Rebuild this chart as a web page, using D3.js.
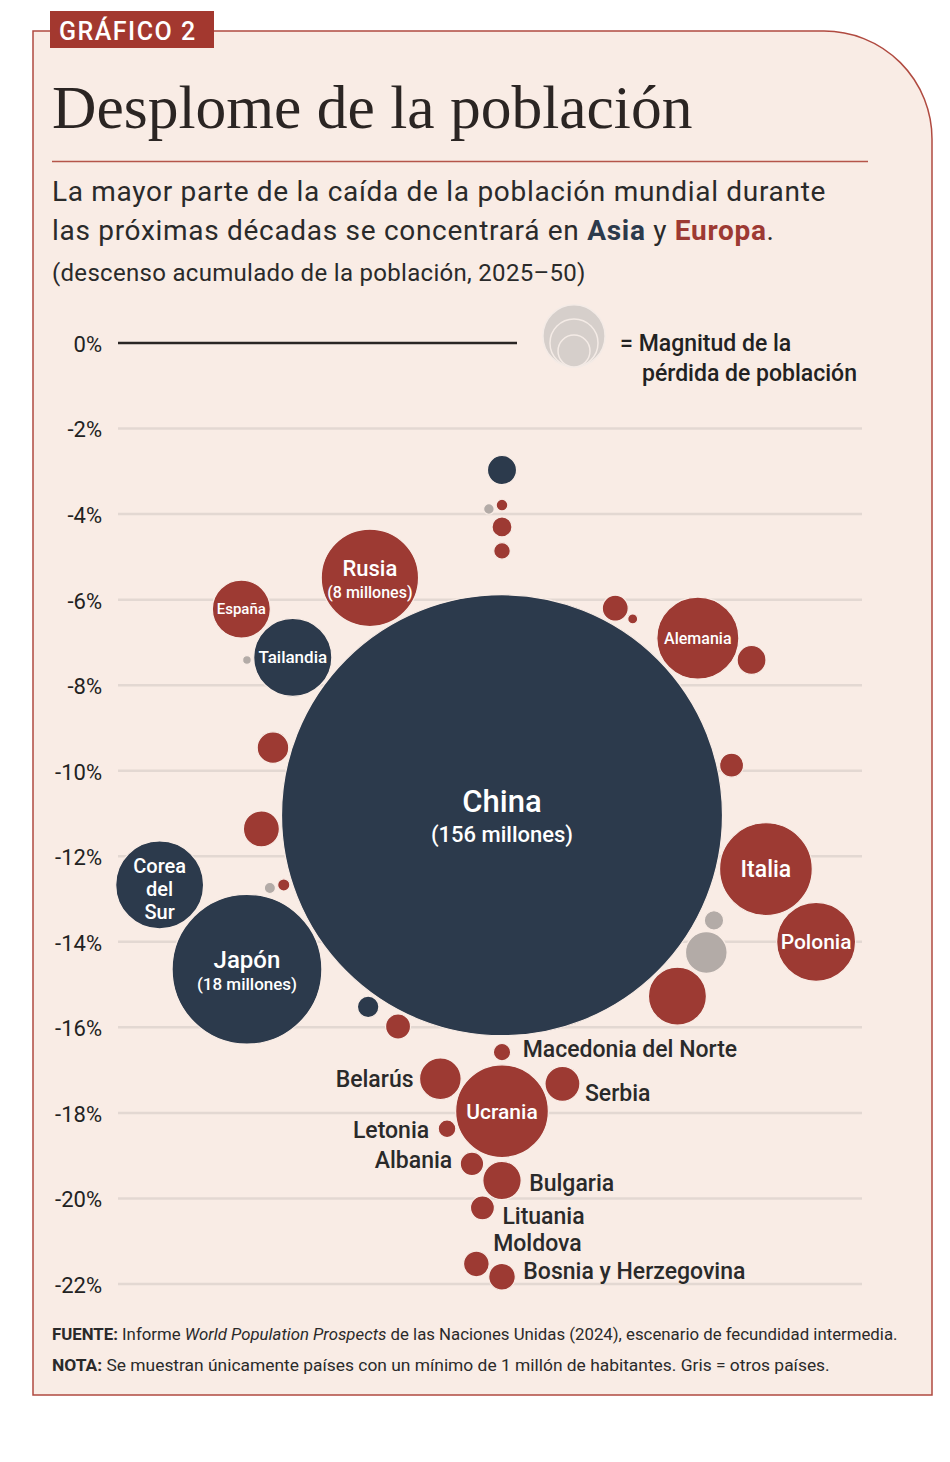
<!DOCTYPE html>
<html lang="es">
<head>
<meta charset="utf-8">
<title>Desplome de la población</title>
<script src="https://cdn.jsdelivr.net/npm/d3@7"></script>
<style>
  body { margin: 0; background: #fff; }
  svg { display: block; }
</style>
</head>
<body>
<div id="grafico"></div>
<script>
// descenso acumulado de la población 2025-50 (%) y pérdida (millones de habitantes)
const paises = ["", "", "", "", "", "Rusia", "España", "Tailandia", "", "", "",
  "Alemania", "", "", "", "", "China", "Corea del Sur", "", "", "Italia", "", "",
  "Polonia", "Japón", "", "", "", "Macedonia del Norte", "Belarús", "Serbia",
  "Ucrania", "Letonia", "Albania", "Bulgaria", "Lituania", "Moldova", "Bosnia y Herzegovina"]
const region = ["asia", "otros", "europa", "europa", "europa", "europa", "europa", "asia", "otros", "europa", "europa",
  "europa", "europa", "europa", "europa", "europa", "asia", "asia", "otros", "europa", "europa", "otros", "otros",
  "europa", "asia", "europa", "asia", "europa", "europa", "europa", "europa",
  "europa", "europa", "europa", "europa", "europa", "europa", "europa"]
const descenso = [-2.97, -3.88, -3.79, -4.30, -4.86, -5.49, -6.22, -7.35, -7.41, -6.20, -6.45,
  -6.90, -7.41, -9.46, -9.87, -11.36, -11.04, -12.67, -12.74, -12.67, -12.30, -13.50, -14.25,
  -14.00, -14.64, -15.27, -15.52, -15.98, -16.58, -17.20, -17.32,
  -17.96, -18.37, -19.19, -19.58, -20.22, -21.53, -21.83]
const perdida = [0.68, 0.09, 0.11, 0.32, 0.22, 7.6, 2.7, 4.9, 0.06, 0.54, 0.08,
  5.4, 0.67, 0.80, 0.46, 1.04, 156, 6.2, 0.10, 0.12, 6.9, 0.30, 1.39,
  5.0, 18, 2.7, 0.37, 0.50, 0.24, 1.39, 0.98,
  6.9, 0.25, 0.44, 1.18, 0.46, 0.53, 0.57]
// lado del enjambre hacia el que se desplaza cada burbuja si choca (-1 izq., 1 der.)
const lado = [0, -1, 0, 0, 0, -1, -1, -1, -1, 1, 1,
  1, 1, -1, 1, -1, 0, -1, -1, -1, 1, 1, 1,
  1, -1, 1, -1, -1, 0, -1, 1,
  0, -1, -1, 0, -1, -1, 0]
const ticks = [0, -2, -4, -6, -8, -10, -12, -14, -16, -18, -20, -22]
const leyenda = [3.1, 1.85, 0.82]

const colores = { asia: "#2c3a4c", europa: "#9d3a33", otros: "#b3aba7" }
const fondo = "#f9ece5"
const sans = "Roboto, 'Noto Sans', sans-serif"

const width = 950, height = 1462
const cx = 502, pad = 2.5

const y = d3.scaleLinear().domain([0, -22]).range([343, 1284])
const r = d3.scaleSqrt().domain([0, 156]).range([0, 220.5])

const svg = d3.select("#grafico").append("svg")
    .attr("width", width)
    .attr("height", height)
    .style("background", "#fff")

// tarjeta
const R = 108
svg.append("path")
    .attr("d", `M33,31 H${932 - R} A${R},${R} 0 0 1 932,${31 + R} V1395 H33 Z`)
    .attr("fill", fondo)
    .attr("stroke", "#b04a40")
    .attr("stroke-width", 1.5)

svg.append("rect").attr("x", 50).attr("y", 11).attr("width", 164).attr("height", 37).attr("fill", "#a3382f")
svg.append("text").attr("x", 59).attr("y", 40)
    .style("font", `500 25px ${sans}`).attr("letter-spacing", 1.5)
    .attr("fill", "#fff").text("GRÁFICO 2")

svg.append("text").attr("x", 52).attr("y", 128)
    .style("font", "61.5px 'Liberation Serif', serif")
    .attr("fill", "#2b2523")
    .text("Desplome de la población")

svg.append("line").attr("x1", 52).attr("x2", 868).attr("y1", 161.5).attr("y2", 161.5)
    .attr("stroke", "#b5554a").attr("stroke-width", 1.5)

const sub = svg.append("g").style("font", `28px ${sans}`).attr("letter-spacing", 0.7).attr("fill", "#2a2a2a")
sub.append("text").attr("x", 52).attr("y", 201)
    .text("La mayor parte de la caída de la población mundial durante")
const l2 = sub.append("text").attr("x", 52).attr("y", 240)
l2.append("tspan").text("las próximas décadas se concentrará en ")
l2.append("tspan").attr("font-weight", 700).attr("fill", colores.asia).text("Asia")
l2.append("tspan").text(" y ")
l2.append("tspan").attr("font-weight", 700).attr("fill", colores.europa).text("Europa")
l2.append("tspan").text(".")
sub.append("text").attr("x", 52).attr("y", 281).style("font-size", "24px").attr("letter-spacing", 0.3)
    .text("(descenso acumulado de la población, 2025–50)")

// rejilla y eje
svg.append("g")
  .selectAll("line")
  .data(ticks)
  .join("line")
    .attr("x1", 118)
    .attr("x2", d => d === 0 ? 517 : 862)
    .attr("y1", d => y(d)).attr("y2", d => y(d))
    .attr("stroke", d => d === 0 ? "#2a2624" : "#e3d8d2")
    .attr("stroke-width", 2.5)

svg.append("g")
    .attr("transform", "translate(118,0)")
    .call(d3.axisLeft(y).tickValues(ticks).tickSize(0).tickPadding(16)
      .tickFormat(d => (d < 0 ? "-" + Math.abs(d) : d) + "%"))
    .call(g => g.select(".domain").remove())
    .call(g => g.selectAll("text")
      .attr("dy", "0.38em")
      .attr("fill", "#222")
      .style("font", `400 22px ${sans}`))

// leyenda
const leg = svg.append("g")
leg.selectAll("circle")
  .data(leyenda)
  .join("circle")
    .attr("cx", 574)
    .attr("cy", d => 367 - r(d))
    .attr("r", d => r(d))
    .attr("fill", "#d6cfcb")
    .attr("stroke", "#f4ebe6")
    .attr("stroke-width", 1.5)
leg.append("text").attr("x", 620).attr("y", 351).style("font", `500 23px ${sans}`).attr("fill", "#222")
    .text("= Magnitud de la")
leg.append("text").attr("x", 642).attr("y", 381).style("font", `500 23px ${sans}`).attr("fill", "#222")
    .text("pérdida de población")

// enjambre: cada burbuja a la altura de su valor, lo más cerca posible del eje central
const nodos = paises.map((p, i) => ({
  pais: p, region: region[i], valor: descenso[i], millones: perdida[i], lado: lado[i],
  y: y(descenso[i]), r: r(perdida[i])
}))
const puestos = []
nodos.slice().sort((a, b) => b.r - a.r).forEach(n => {
  const bloques = puestos.map(p => {
    const dy = n.y - p.y, D = n.r + p.r + pad
    if (Math.abs(dy) >= D) return null
    const dx = Math.sqrt(D * D - dy * dy)
    return [p.x - dx, p.x + dx]
  }).filter(Boolean)
  const libre = x => bloques.every(([a, b]) => x <= a + 1e-6 || x >= b - 1e-6)
  let cands = [cx, ...bloques.flat()].filter(libre)
  if (n.lado < 0) cands = cands.filter(x => x <= cx)
  if (n.lado > 0) cands = cands.filter(x => x >= cx)
  n.x = d3.least(cands, x => Math.abs(x - cx))
  puestos.push(n)
})

svg.append("g")
  .selectAll("circle")
  .data(nodos)
  .join("circle")
    .attr("cx", d => d.x)
    .attr("cy", d => d.y)
    .attr("r", d => d.r)
    .attr("fill", d => colores[d.region])
    .attr("stroke", fondo)
    .attr("stroke-width", 1.2)

// etiquetas dentro de las burbujas: [texto, tamaño, desplazamiento vertical]
const mill = n => `(${Math.round(n.millones)} millones)`
const dentro = {
  "China": n => [["China", 31, -3], [mill(n), 22, 27]],
  "Japón": n => [["Japón", 24, -1], [mill(n), 17, 21]],
  "Rusia": n => [["Rusia", 22, -2], [mill(n), 16, 20]],
  "España": () => [["España", 15, 5]],
  "Tailandia": () => [["Tailandia", 17, 6]],
  "Alemania": () => [["Alemania", 16, 6]],
  "Italia": () => [["Italia", 23, 8]],
  "Polonia": () => [["Polonia", 21, 7]],
  "Corea del Sur": () => [["Corea", 20, -12], ["del", 20, 11], ["Sur", 20, 34]],
  "Ucrania": () => [["Ucrania", 21, 8]]
}
const interiores = svg.append("g").attr("text-anchor", "middle").attr("fill", "#fff")
nodos.filter(n => dentro[n.pais]).forEach(n => {
  dentro[n.pais](n).forEach(([t, s, dy]) => {
    interiores.append("text")
        .attr("x", n.x).attr("y", n.y + dy)
        .style("font", `500 ${s}px ${sans}`)
        .text(t)
  })
})

// etiquetas exteriores: [lado, desplazamiento vertical, separación]
const fuera = {
  "Macedonia del Norte": [1, 5, 12],
  "Belarús": [-1, 8, 6],
  "Serbia": [1, 17, 5],
  "Letonia": [-1, 9, 9],
  "Albania": [-1, 4, 8],
  "Bulgaria": [1, 11, 8],
  "Lituania": [1, 16, 8],
  "Moldova": [1, -13, 4],
  "Bosnia y Herzegovina": [1, 2, 8]
}
svg.append("g")
  .selectAll("text")
  .data(nodos.filter(n => fuera[n.pais]))
  .join("text")
    .attr("x", n => n.x + fuera[n.pais][0] * (n.r + fuera[n.pais][2]))
    .attr("y", n => n.y + fuera[n.pais][1])
    .attr("text-anchor", n => fuera[n.pais][0] < 0 ? "end" : "start")
    .attr("fill", "#2a2a2a")
    .style("font", `500 23px ${sans}`)
    .text(n => n.pais)

// notas
const notas = svg.append("g").attr("fill", "#2a2a2a")
const f1 = notas.append("text").attr("x", 52).attr("y", 1340).style("font", `16.8px ${sans}`)
f1.append("tspan").attr("font-weight", 700).text("FUENTE:")
f1.append("tspan").text(" Informe ")
f1.append("tspan").attr("font-style", "italic").text("World Population Prospects")
f1.append("tspan").text(" de las Naciones Unidas (2024), escenario de fecundidad intermedia.")
const f2 = notas.append("text").attr("x", 52).attr("y", 1371).style("font", `17.4px ${sans}`)
f2.append("tspan").attr("font-weight", 700).text("NOTA:")
f2.append("tspan").text(" Se muestran únicamente países con un mínimo de 1 millón de habitantes. Gris = otros países.")
</script>
</body>
</html>
